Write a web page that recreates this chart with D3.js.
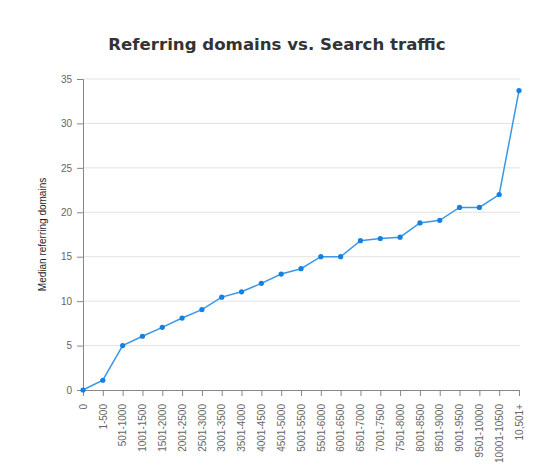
<!DOCTYPE html>
<html>
<head>
<meta charset="utf-8">
<script src="https://cdn.jsdelivr.net/npm/d3@7"></script>
<style>
  body { margin: 0; background: #fff; }
  svg { display: block; font-family: "Liberation Sans", Arial, sans-serif; }
</style>
</head>
<body>
<script>
// Traffic buckets (x axis)
var categories = ["0", "1-500", "501-1000", "1001-1500", "1501-2000", "2001-2500",
  "2501-3000", "3001-3500", "3501-4000", "4001-4500", "4501-5000", "5001-5500",
  "5501-6000", "6001-6500", "6501-7000", "7001-7500", "7501-8000", "8001-8500",
  "8501-9000", "9001-9500", "9501-10000", "10001-10500", "10,501+"];

// Median referring domains per bucket
var medians = [0, 1.1, 5, 6.05, 7.05, 8.1, 9.05, 10.45, 11.05, 12, 13.05, 13.65,
  15, 15, 16.8, 17.05, 17.2, 18.8, 19.1, 20.55, 20.55, 22, 33.7];

var yTicks = [0, 5, 10, 15, 20, 25, 30, 35];

var svgWidth = 559;
var svgHeight = 465;

var margin = { top: 79, right: 40, bottom: 75, left: 83 };
var chartWidth = svgWidth - margin.left - margin.right;
var chartHeight = svgHeight - margin.top - margin.bottom;

var svg = d3.select("body")
  .append("svg")
  .attr("width", svgWidth)
  .attr("height", svgHeight);

var chartGroup = svg.append("g")
  .attr("transform", `translate(${margin.left}, ${margin.top})`);

var data = categories.map((c, i) => ({ cat: c, value: medians[i] }));

var xScale = d3.scalePoint()
  .domain(categories)
  .range([0, 436]);

var yScale = d3.scaleLinear()
  .domain([0, 35])
  .range([chartHeight, 0]);

// gridlines
chartGroup.append("g")
  .selectAll("line")
  .data(yTicks.filter(d => d > 0))
  .enter()
  .append("line")
  .attr("x1", 0)
  .attr("x2", 437)
  .attr("y1", d => yScale(d))
  .attr("y2", d => yScale(d))
  .attr("stroke", "#e3e3e3")
  .attr("stroke-width", 1);

// y axis
var leftAxis = d3.axisLeft(yScale).tickValues(yTicks).tickSize(6).tickPadding(5);
var yAxis = chartGroup.append("g").call(leftAxis);
yAxis.select(".domain").attr("stroke", "#888");
yAxis.selectAll(".tick line").attr("stroke", "#888");
yAxis.selectAll("text")
  .attr("fill", "#666")
  .style("font-size", "10px");

// x axis
var bottomAxis = d3.axisBottom(xScale).tickSize(6).tickPadding(4);
var xAxis = chartGroup.append("g")
  .attr("transform", `translate(0, ${chartHeight})`)
  .call(bottomAxis);
xAxis.select(".domain").attr("stroke", "#888").attr("d", "M0,0.5H436.5");
xAxis.selectAll(".tick line").attr("stroke", "#888");
xAxis.selectAll("text")
  .attr("fill", "#666")
  .style("font-size", "10px")
  .attr("text-anchor", "end")
  .attr("dy", "0.32em")
  .attr("transform", "translate(0, 3) rotate(-90) translate(-11, 0)")
  .attr("x", 0)
  .attr("y", 0);

// line
var drawLine = d3.line()
  .x(d => xScale(d.cat))
  .y(d => yScale(d.value));

chartGroup.append("path")
  .datum(data)
  .attr("d", drawLine)
  .attr("fill", "none")
  .attr("stroke", "#3a98e6")
  .attr("stroke-width", 1.5);

chartGroup.append("g")
  .selectAll("circle")
  .data(data)
  .enter()
  .append("circle")
  .attr("cx", d => xScale(d.cat))
  .attr("cy", d => yScale(d.value))
  .attr("r", 2.6)
  .attr("fill", "#1580e0");

// title
svg.append("text")
  .attr("x", 277)
  .attr("y", 50)
  .attr("text-anchor", "middle")
  .attr("fill", "#333")
  .style("font-family", "'DejaVu Sans', sans-serif")
  .style("font-weight", "bold")
  .style("font-size", "16.6px")
  .text("Referring domains vs. Search traffic");

// y axis title
svg.append("text")
  .attr("transform", `translate(46, ${margin.top + chartHeight / 2}) rotate(-90)`)
  .attr("text-anchor", "middle")
  .attr("fill", "#222")
  .style("font-size", "10px")
  .text("Median referring domains");
</script>
</body>
</html>
